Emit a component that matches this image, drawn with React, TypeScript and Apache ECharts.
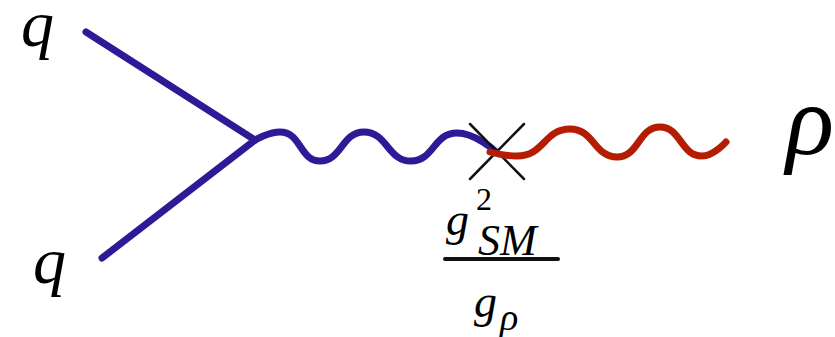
import { useEffect, useRef } from "react";
import * as echarts from "echarts";

// Diagram geometry (in picture pixels)
const quarkTop = [[86, 32], [255, 140]];
const quarkBottom = [[102, 258], [255, 140]];
const smWave = [[255, 140], [280, 132], [320, 161], [364, 132], [411, 161], [457, 133], [495, 151]];
const rhoWave = [[490, 152], [517, 156], [570, 129], [617, 157], [660, 127], [702, 156], [726, 142]];
const crossA = [[470, 124], [524, 179]];
const crossB = [[524, 124], [470, 179]];
const fractionBar = [[445, 259], [558, 259]];

const labelQ = "q";
const labelRho = "ρ";
const numBase = "g";
const numSup = "2";
const numSub = "SM";
const denBase = "g";
const denSub = "ρ";

const BLUE = "#2d1a96";
const RED = "#b41c04";
const SERIF = "Liberation Serif";

export default function App() {
  const ref = useRef<HTMLDivElement>(null);
  useEffect(() => {
    const chart = echarts.init(ref.current!, null, { renderer: "svg" });
    const line = (data: number[][], color: string, width: number, smooth: boolean | number, z: number) => ({
      type: "line",
      data,
      smooth,
      symbol: "none",
      silent: true,
      clip: false,
      z,
      lineStyle: { color, width, cap: "round", join: "round" },
    });
    const txt = (text: string, x: number, y: number, size: number, italic = true) => ({
      type: "text",
      x,
      y,
      silent: true,
      style: {
        text,
        fill: "#000",
        fontFamily: SERIF,
        fontStyle: italic ? "italic" : "normal",
        fontSize: size,
        lineHeight: Math.round(size * 0.55),
        textAlign: "left",
        textVerticalAlign: "middle",
      },
    });
    chart.setOption({
      animation: false,
      grid: { left: 0, right: 0, top: 0, bottom: 0 },
      xAxis: { type: "value", min: 0, max: 835, show: false },
      yAxis: { type: "value", min: 0, max: 337, inverse: true, show: false },
      series: [
        line(quarkTop, BLUE, 7, false, 2),
        line(quarkBottom, BLUE, 7, false, 2),
        line(smWave, BLUE, 7, 0.5, 2),
        line(crossA, "#111", 2.5, false, 3),
        line(crossB, "#111", 2.5, false, 3),
        line(rhoWave, RED, 7, 0.5, 4),
        line(fractionBar, "#111", 4, false, 3),
      ],
      graphic: [
        txt(labelQ, 21, 23, 66),
        txt(labelQ, 33, 260, 66),
        txt(labelRho, 786, 120, 100),
        txt(numBase, 446, 219, 46),
        txt(numSup, 476, 199, 32, false),
        txt(numSub, 478, 240, 44),
        txt(denBase, 474, 301, 46),
        txt(denSub, 500, 317, 38),
      ],
    });
    return () => chart.dispose();
  }, []);
  return (
    <div
      ref={ref}
      style={{ position: "fixed", left: 0, top: 0, width: 835, height: 337, background: "#fff" }}
    />
  );
}
